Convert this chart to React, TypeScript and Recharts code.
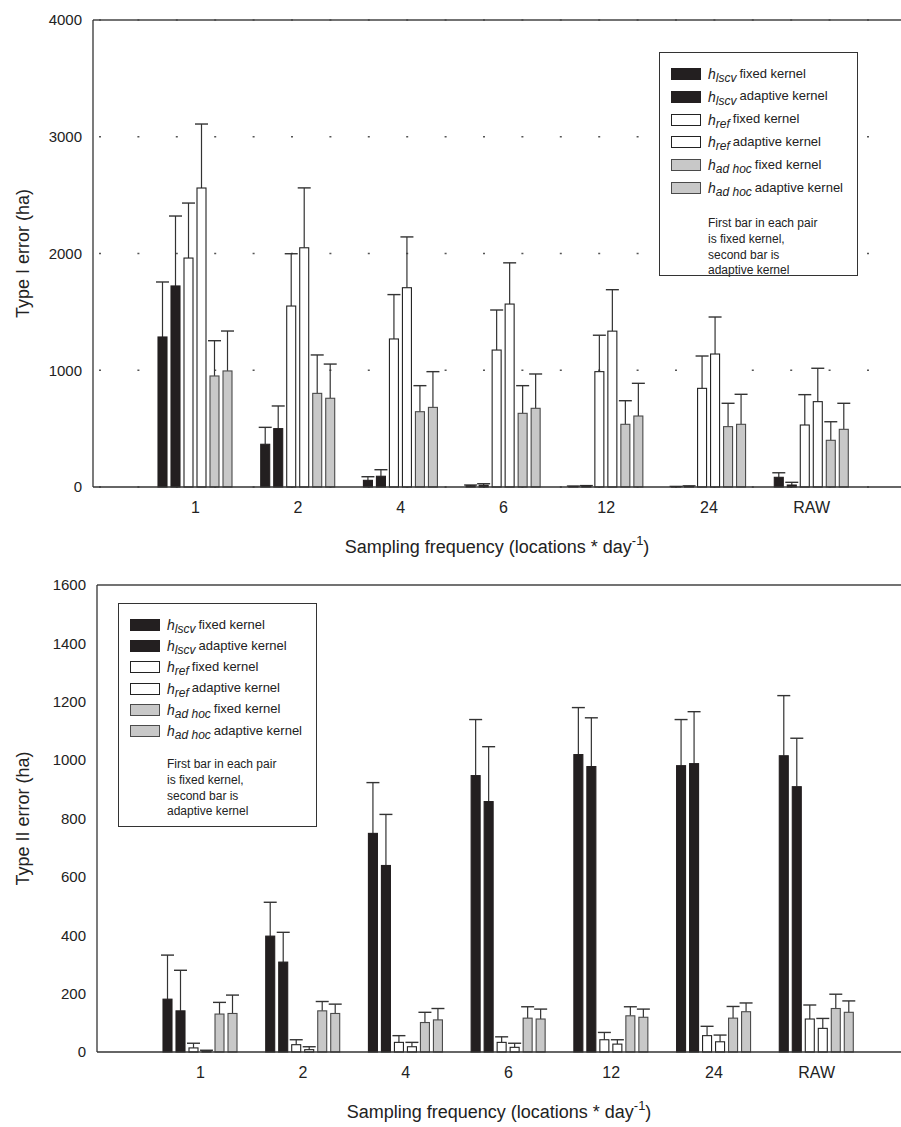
import React from 'react'
import { BarChart, Bar, XAxis, YAxis, CartesianGrid, ReferenceLine } from 'recharts'

const FONT = '"Liberation Sans", Arial, Helvetica, sans-serif'

const categories = ['1', '2', '4', '6', '12', '24', 'RAW']

// Type I error (ha): bar value and top of error bar
const lscvFixed1 = [1285, 366, 57, 10, 5, 3, 83]
const lscvFixedErr1 = [1756, 511, 88, 17, 8, 5, 122]
const lscvAdapt1 = [1722, 500, 92, 15, 8, 5, 17]
const lscvAdaptErr1 = [2321, 694, 148, 28, 12, 10, 40]
const refFixed1 = [1961, 1550, 1268, 1173, 988, 845, 531]
const refFixedErr1 = [2432, 1998, 1648, 1516, 1300, 1122, 791]
const refAdapt1 = [2561, 2049, 1707, 1567, 1335, 1139, 731]
const refAdaptErr1 = [3109, 2562, 2142, 1920, 1690, 1456, 1017]
const adhocFixed1 = [951, 802, 645, 631, 537, 517, 400]
const adhocFixedErr1 = [1253, 1131, 868, 868, 739, 717, 559]
const adhocAdapt1 = [994, 760, 682, 674, 608, 537, 494]
const adhocAdaptErr1 = [1336, 1053, 988, 968, 888, 794, 717]

// Type II error (ha)
const lscvFixed2 = [181, 397, 749, 947, 1019, 981, 1015]
const lscvFixedErr2 = [332, 513, 923, 1139, 1180, 1139, 1221]
const lscvAdapt2 = [141, 308, 639, 858, 978, 988, 909]
const lscvAdaptErr2 = [280, 410, 814, 1046, 1145, 1166, 1075]
const refFixed2 = [14, 25, 33, 33, 42, 56, 113]
const refFixedErr2 = [30, 42, 56, 52, 67, 88, 161]
const refAdapt2 = [4, 8, 18, 16, 27, 35, 81]
const refAdaptErr2 = [6, 18, 33, 30, 42, 58, 115]
const adhocFixed2 = [130, 141, 101, 116, 124, 116, 149]
const adhocFixedErr2 = [170, 173, 136, 155, 155, 156, 198]
const adhocAdapt2 = [132, 132, 110, 113, 119, 138, 136]
const adhocAdaptErr2 = [195, 164, 149, 147, 147, 168, 175]

const ticks1 = [0, 1000, 2000, 3000, 4000]
const ticks2 = [0, 200, 400, 600, 800, 1000, 1200, 1400, 1600]

const legendLabels = [
  { sub: 'lscv', text: 'fixed kernel' },
  { sub: 'lscv', text: 'adaptive kernel' },
  { sub: 'ref', text: 'fixed kernel' },
  { sub: 'ref', text: 'adaptive kernel' },
  { sub: 'ad hoc', text: 'fixed kernel' },
  { sub: 'ad hoc', text: 'adaptive kernel' },
]
const noteLines = ['First bar in each pair', 'is fixed kernel,', 'second bar is', 'adaptive kernel']

const SERIES = [
  { key: 'lf', fill: '#231f20', stroke: '#231f20' },
  { key: 'la', fill: '#231f20', stroke: '#231f20' },
  { key: 'rf', fill: '#ffffff', stroke: '#222222' },
  { key: 'ra', fill: '#ffffff', stroke: '#222222' },
  { key: 'hf', fill: '#c8c8c8', stroke: '#4a4a4a' },
  { key: 'ha', fill: '#c8c8c8', stroke: '#4a4a4a' },
]

function buildRows(vals: number[][], errs: number[][]) {
  return categories.map((name, i) => {
    const row: Record<string, string | number> = { name }
    SERIES.forEach((s, j) => {
      row[s.key] = vals[j][i]
      row[s.key + 'E'] = errs[j][i]
    })
    return row
  })
}

const data1 = buildRows(
  [lscvFixed1, lscvAdapt1, refFixed1, refAdapt1, adhocFixed1, adhocAdapt1],
  [lscvFixedErr1, lscvAdaptErr1, refFixedErr1, refAdaptErr1, adhocFixedErr1, adhocAdaptErr1],
)
const data2 = buildRows(
  [lscvFixed2, lscvAdapt2, refFixed2, refAdapt2, adhocFixed2, adhocAdapt2],
  [lscvFixedErr2, lscvAdaptErr2, refFixedErr2, refAdaptErr2, adhocFixedErr2, adhocAdaptErr2],
)

// bar rect plus an upward-only error whisker, using the bar's own px/unit
function ErrRect(props: any) {
  const { x, y, width, height, fill, stroke, val, err } = props
  const k = val > 0 ? height / val : 0
  const top = y - (err - val) * k
  const cx = x + width / 2
  return (
    <g>
      <line x1={cx} y1={y} x2={cx} y2={top} stroke="#333" strokeWidth={1.2} />
      <line x1={cx - 6.5} x2={cx + 6.5} y1={top} y2={top} stroke="#333" strokeWidth={1.4} />
      <rect x={x} y={y} width={width} height={height} fill={fill} stroke={stroke} strokeWidth={1.1} />
    </g>
  )
}

function YTitle({ viewBox, text }: any) {
  const cy = viewBox.y + viewBox.height / 2
  return (
    <text x={23} y={cy} transform={`rotate(-90 23 ${cy})`} textAnchor="middle" dominantBaseline="central"
      fontSize={18} fill="#222" fontFamily={FONT}>
      {text}
    </text>
  )
}

function XTitle({ viewBox }: any) {
  const cx = viewBox.x + viewBox.width / 2
  const by = viewBox.y + 66
  return (
    <text x={cx} y={by} textAnchor="middle" fontSize={18} fill="#222" fontFamily={FONT}>
      Sampling frequency (locations * day
      <tspan dy={-8} fontSize={13}>-1</tspan>
      <tspan dy={8}>)</tspan>
    </text>
  )
}

function LegendBox({ left, top, rowStep, noteTop }: { left: number; top: number; rowStep: number; noteTop: number }) {
  return (
    <div style={{
      position: 'absolute', left, top, width: 199, height: 224, border: '1px solid #333',
      background: '#fff', fontFamily: FONT, color: '#222', boxSizing: 'border-box',
    }}>
      {legendLabels.map((l, i) => (
        <div key={i} style={{ position: 'absolute', left: 11, top: 13 + i * rowStep, height: 16, display: 'flex', alignItems: 'center', whiteSpace: 'nowrap' }}>
          <div style={{
            width: 30, height: 12, boxSizing: 'border-box', background: SERIES[i].fill,
            border: `1px solid ${SERIES[i].stroke}`, marginRight: 7,
          }} />
          <span style={{ fontStyle: 'italic', fontSize: 14 }}>h</span>
          <span style={{ fontStyle: 'italic', fontSize: 12, position: 'relative', top: 4 }}>{l.sub}</span>
          <span style={{ fontSize: 13, marginLeft: 3, position: 'relative', top: -1 }}>{l.text}</span>
        </div>
      ))}
      {noteLines.map((t, i) => (
        <div key={t} style={{ position: 'absolute', left: 48, top: noteTop + i * 15.8, fontSize: 12, lineHeight: '14px', whiteSpace: 'nowrap' }}>
          {t}
        </div>
      ))}
    </div>
  )
}

interface PanelProps {
  data: Record<string, string | number>[]
  yMax: number
  ticks: number[]
  yTitle: string
  yWidth: number
  padLeft: number
  padRight: number
  grid: boolean
}

function Panel({ data, yMax, ticks, yTitle, yWidth, padLeft, padRight, grid }: PanelProps) {
  return (
    <BarChart width={901} height={562} data={data} margin={{ top: 20, right: 0, left: 0, bottom: 0 }}
      barSize={9} barGap={4}>
      {grid && (
        <CartesianGrid vertical={false} stroke="#555" strokeWidth={1.6} strokeDasharray="2 36.4" strokeDashoffset={32.4} />
      )}
      <XAxis dataKey="name" height={75} padding={{ left: padLeft, right: padRight }}
        tickLine={false} tickSize={0} tickMargin={15} interval={0}
        axisLine={{ stroke: '#333', strokeWidth: 1.6 }}
        tick={{ fontSize: 16, fill: '#222', fontFamily: FONT }}
        label={<XTitle />} />
      <YAxis domain={[0, yMax]} ticks={ticks} width={yWidth} interval={0}
        tickLine={false} tickSize={0} tickMargin={11}
        axisLine={{ stroke: '#333', strokeWidth: 1.3 }}
        tick={{ fontSize: 15, fill: '#222', fontFamily: FONT }}
        label={<YTitle text={yTitle} />} />
      <ReferenceLine y={yMax} stroke="#444" strokeWidth={1.4} />
      {SERIES.map((s) => (
        <Bar key={s.key} dataKey={s.key} fill={s.fill} stroke={s.stroke} isAnimationActive={false}
          shape={(p: any) => <ErrRect {...p} fill={s.fill} stroke={s.stroke} val={p.payload[s.key]} err={p.payload[s.key + 'E']} />} />
      ))}
    </BarChart>
  )
}

export default function App() {
  return (
    <div style={{ position: 'absolute', left: 0, top: 0, width: 901, height: 1127, background: '#fff', fontFamily: FONT }}>
      <div style={{ position: 'absolute', left: 0, top: 0 }}>
        <Panel data={data1} yMax={4000} ticks={ticks1} yTitle="Type I error (ha)" yWidth={93}
          padLeft={51} padRight={38} grid />
      </div>
      <div style={{ position: 'absolute', left: 0, top: 565 }}>
        <Panel data={data2} yMax={1600} ticks={ticks2} yTitle="Type II error (ha)" yWidth={97}
          padLeft={52} padRight={33} grid={false} />
      </div>
      <LegendBox left={659} top={52} rowStep={22.8} noteTop={163} />
      <LegendBox left={118} top={603} rowStep={21.2} noteTop={153} />
    </div>
  )
}
